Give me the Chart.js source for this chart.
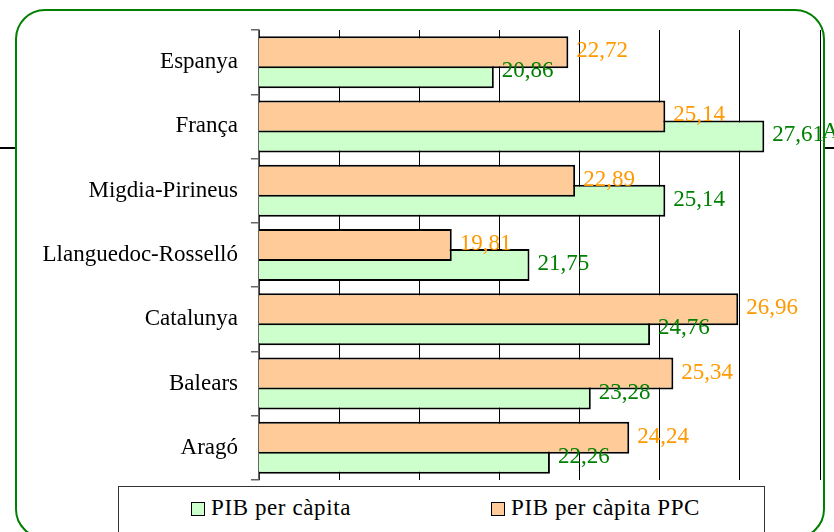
<!DOCTYPE html>
<html>
<head>
<meta charset="utf-8">
<script src="https://cdn.jsdelivr.net/npm/chart.js@4"></script>
<style>
    body { margin: 0; background: #fff; }
    #wrap { position: relative; width: 834px; height: 532px; overflow: hidden; font-family: 'Liberation Serif', serif; }
    #rule { position: absolute; left: 0; top: 147px; width: 834px; height: 2px; background: #000; }
    #frame {
        position: absolute; left: 15px; top: 9px; width: 806px; height: 526px;
        border: 2.5px solid #008000; border-radius: 30px; background: #fff;
    }
    #chart { position: absolute; left: 0; top: 0; }
    #legend {
        position: absolute; left: 118px; top: 486px; width: 645px; height: 60px;
        border: 1px solid #333; background: #fff;
    }
    .item { position: absolute; top: 8px; font-size: 23px; letter-spacing: 0.6px; color: #000; white-space: nowrap; }
    .box { display: inline-block; width: 12px; height: 12px; border: 1.5px solid #000; margin-right: 6px; vertical-align: -1px; }
    #cut { position: absolute; left: 822px; top: 118px; font-size: 23px; color: #008000; }
</style>
</head>
<body>
<div id="wrap">
    <div id="rule"></div>
    <div id="frame"></div>
    <canvas id="chart" width="834" height="532"></canvas>
    <div id="cut">A</div>
    <div id="legend"></div>
</div>

<script>
const categories = ['Espanya', 'França', 'Migdia-Pirineus', 'Llanguedoc-Rosselló', 'Catalunya', 'Balears', 'Aragó']
const pibPpc = [22.72, 25.14, 22.89, 19.81, 26.96, 25.34, 24.24]
const pibCapita = [20.86, 27.61, 25.14, 21.75, 24.76, 23.28, 22.26]

const axisMin = 15
const axisMax = 29
const axisStep = 2

const series = [
    { label: 'PIB per càpita PPC', data: pibPpc, fill: '#ffcc99', text: '#ff9900' },
    { label: 'PIB per càpita', data: pibCapita, fill: '#ccffcc', text: '#008000' }
]

const FONT = "'Liberation Serif', serif"

// values written at the end of every bar
const valueLabels = {
    id: 'valueLabels',
    afterDatasetsDraw(chart) {
        const ctx = chart.ctx
        ctx.save()
        ctx.font = `23px ${FONT}`
        ctx.textAlign = 'left'
        ctx.textBaseline = 'middle'
        chart.data.datasets.forEach((ds, i) => {
            const meta = chart.getDatasetMeta(i)
            ctx.fillStyle = series[i].text
            meta.data.forEach((bar, j) => {
                const txt = ds.data[j].toFixed(2).replace('.', ',')
                ctx.fillText(txt, bar.x + 8, bar.y - 1)
            })
        })
        ctx.restore()
    }
}

document.addEventListener('DOMContentLoaded', () => {
    buildChart()
    buildLegend()
})

function buildChart() {
    const ctx = document.getElementById('chart').getContext('2d')

    new Chart(ctx, {
        type: 'bar',
        data: {
            labels: categories,
            datasets: series.map(s => ({
                label: s.label,
                data: s.data,
                backgroundColor: s.fill,
                borderColor: '#000',
                borderWidth: 2,
                borderSkipped: false,
                categoryPercentage: 0.622,
                barPercentage: 1.6
            }))
        },
        options: {
            indexAxis: 'y',
            responsive: false,
            animation: false,
            devicePixelRatio: 1,
            layout: { padding: { left: 0, top: 30, right: 14, bottom: 52 } },
            plugins: {
                legend: { display: false },
                tooltip: { enabled: false }
            },
            scales: {
                x: {
                    min: axisMin,
                    max: axisMax,
                    ticks: { display: false, stepSize: axisStep },
                    grid: { color: '#000', lineWidth: 1, drawTicks: false },
                    border: { display: false },
                    afterFit: scale => { scale.height = 0 }
                },
                y: {
                    ticks: {
                        color: '#000',
                        padding: 13,
                        font: { family: FONT, size: 23 }
                    },
                    grid: {
                        offset: true,
                        drawOnChartArea: false,
                        drawTicks: true,
                        tickLength: 8,
                        color: '#666',
                        lineWidth: 1.5
                    },
                    border: { display: true, color: '#666', width: 1.5 },
                    afterFit: scale => { scale.width = 259 }
                }
            }
        },
        plugins: [valueLabels]
    })
}

function buildLegend() {
    const legend = document.getElementById('legend')
    const order = [series[1], series[0]]
    const lefts = [72, 372]

    order.forEach((s, i) => {
        const item = document.createElement('div')
        item.className = 'item'
        item.style.left = `${lefts[i]}px`
        item.innerHTML = `<span class="box" style="background:${s.fill}"></span>${s.label}`
        legend.appendChild(item)
    })
}
</script>
</body>
</html>
